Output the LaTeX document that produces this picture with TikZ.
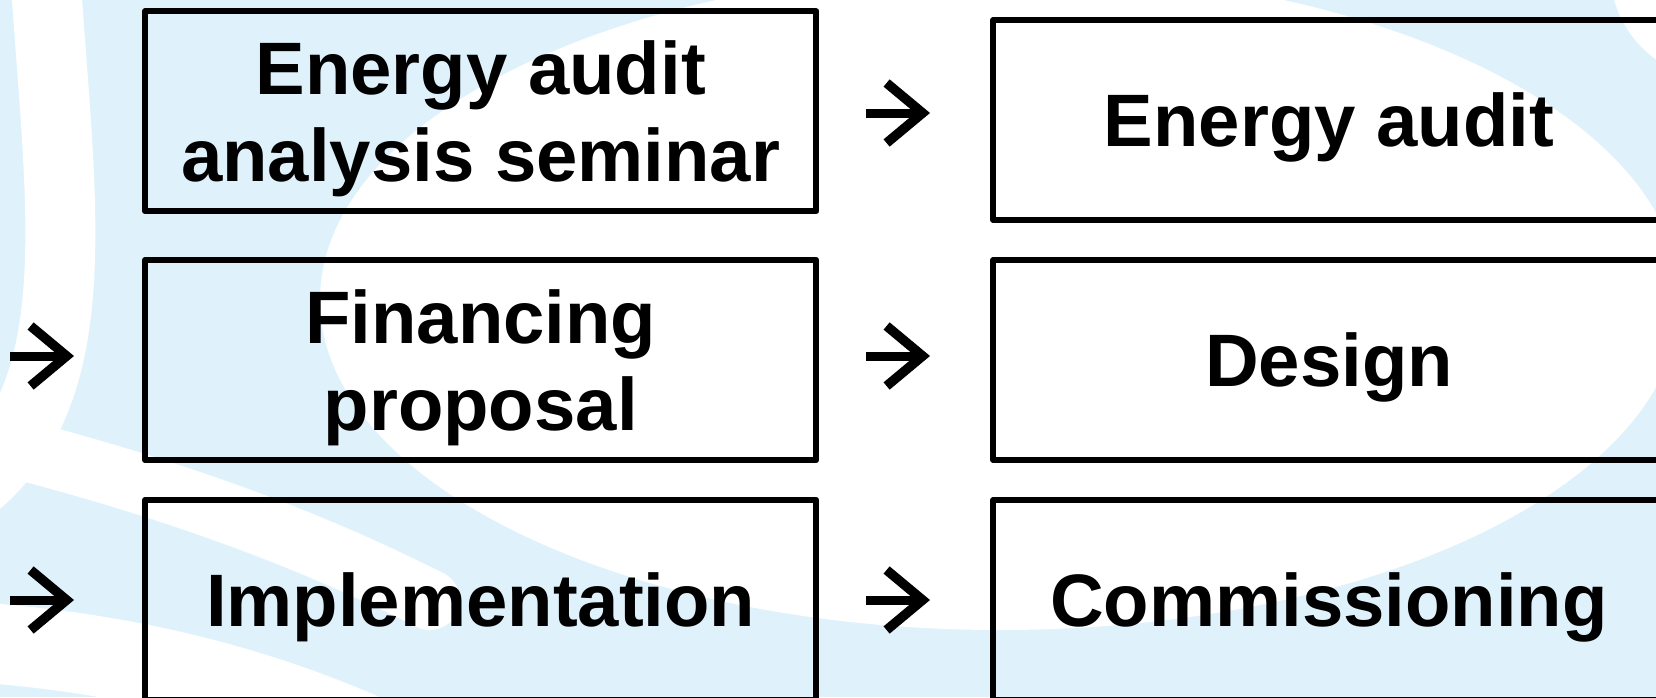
\documentclass[tikz,border=0pt]{standalone}
\usepackage{fontspec}
\setmainfont{Liberation Sans}
\usetikzlibrary{arrows.meta}
\definecolor{swirlblue}{HTML}{DFF2FC}

\begin{document}
\begin{tikzpicture}[x=0.02cm, y=-0.02cm,
    stage/.style = {draw, line width=0.12cm, line join=round,
      minimum width=13.43cm, minimum height=4cm, inner sep=0pt, text depth=0pt,
      align=center, font=\fontsize{42.3pt}{49.5pt}\selectfont\bfseries},
    flow/.style  = {line width=0.18cm,
      -{Straight Barb[sharp, length=0.72cm, width=1.2cm, line width=0.19cm]}},
    swirl/.style = {white, line cap=round},
  ]
  \useasboundingbox (0,0) rectangle (1656,697);
  \clip (0,0) rectangle (1656,697);
  \fill[swirlblue] (0,0) rectangle (1656,697);
  \fill[white] (1000,300) ellipse [x radius=680, y radius=-330];
  \fill[white] (1720,-30) circle [radius=110];
  \draw[swirl, line width=1.4cm] (45,-30) .. controls (60,200) and (90,380) .. (-20,480);
  \draw[swirl, line width=1.6cm] (-60,640) .. controls (150,650) and (300,700) .. (420,760);
  \draw[swirl, line width=1.2cm] (-60,430) .. controls (200,490) and (350,560) .. (430,600);

  \node[stage] (b1) at (480.75,111.25) {Energy audit\\analysis seminar};
  \node[stage] (b2) at (1329,120)      {Energy audit};
  \node[stage] (b3) at (480.75,360)    {Financing\\proposal};
  \node[stage] (b4) at (1329,360)      {Design};
  \node[stage] (b5) at (480.75,600)    {Implementation};
  \node[stage] (b6) at (1329,600)      {Commissioning};

  \coordinate (a1s) at (866,113); \coordinate (a1e) at (930,113);
  \coordinate (a2s) at (866,356); \coordinate (a2e) at (930,356);
  \coordinate (a3s) at (866,600); \coordinate (a3e) at (930,600);
  \coordinate (l2s) at (10,356);  \coordinate (l2e) at (74,356);
  \coordinate (l3s) at (10,600);  \coordinate (l3e) at (74,600);
  \draw[flow] (a1s) -- (a1e);
  \draw[flow] (a2s) -- (a2e);
  \draw[flow] (a3s) -- (a3e);
  \draw[flow] (l2s) -- (l2e);
  \draw[flow] (l3s) -- (l3e);
\end{tikzpicture}
\end{document}
